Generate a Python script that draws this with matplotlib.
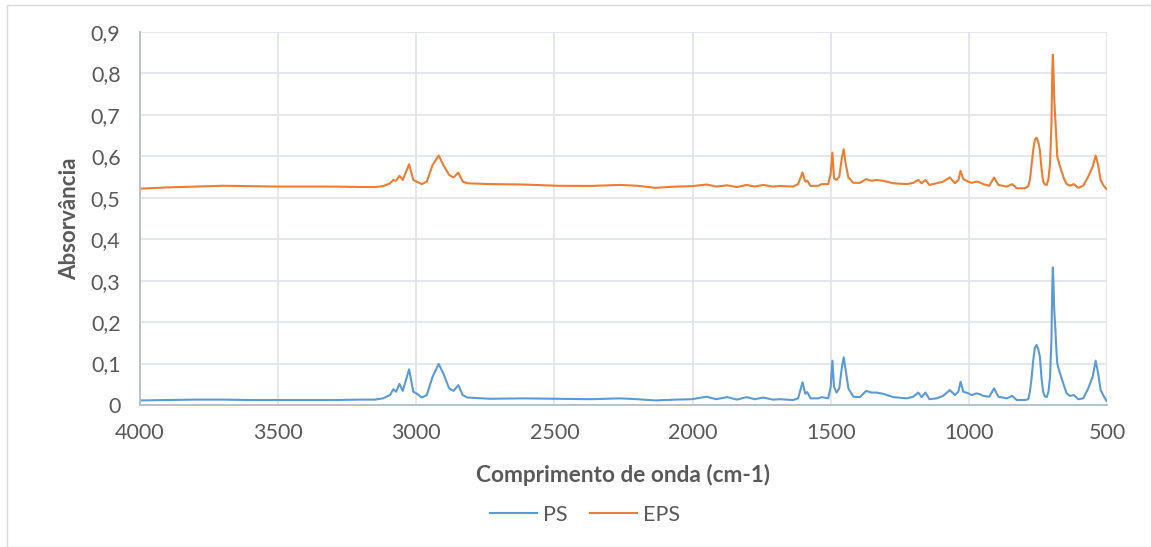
import matplotlib.pyplot as plt
from matplotlib.patches import Rectangle
from matplotlib.ticker import FuncFormatter

# Wavenumber grid (cm-1), high to low
wavenumber = [4000, 3900, 3800, 3700, 3600, 3500, 3400, 3300, 3200, 3150, 3120,
              3095, 3083, 3073, 3061, 3049, 3026, 3011, 2999, 2980, 2962, 2941,
              2919, 2902, 2881, 2865, 2848, 2832, 2815, 2733, 2613, 2492, 2371,
              2262, 2200, 2136, 2060, 2003, 1949, 1915, 1874, 1840, 1804, 1775,
              1744, 1710, 1684, 1636, 1618, 1602, 1592, 1585, 1573, 1545, 1533,
              1509, 1500, 1494, 1488, 1479, 1469, 1460, 1453, 1446, 1436, 1418,
              1394, 1372, 1352, 1334, 1310, 1274, 1225, 1201, 1183, 1171, 1157,
              1143, 1117, 1093, 1069, 1050, 1038, 1030, 1020, 1002, 990, 972,
              960, 948, 926, 909, 893, 863, 843, 827, 797, 785, 779, 773, 767,
              761, 755, 749, 743, 737, 731, 725, 718, 712, 706, 701, 698, 696,
              694, 691, 687, 683, 680, 672, 664, 655, 646, 634, 620, 604, 586,
              568, 552, 541, 532, 523, 514, 502]

ps = [0.011, 0.012, 0.013, 0.013, 0.012, 0.012, 0.012, 0.012, 0.013, 0.013, 0.016,
      0.024, 0.038, 0.032, 0.051, 0.034, 0.086, 0.032, 0.028, 0.018, 0.024, 0.068,
      0.099, 0.076, 0.040, 0.034, 0.048, 0.024, 0.018, 0.015, 0.016, 0.015, 0.014,
      0.016, 0.014, 0.011, 0.013, 0.014, 0.020, 0.014, 0.019, 0.013, 0.019, 0.014,
      0.018, 0.013, 0.014, 0.012, 0.016, 0.055, 0.027, 0.031, 0.016, 0.016, 0.019,
      0.016, 0.044, 0.107, 0.044, 0.030, 0.040, 0.089, 0.115, 0.085, 0.040, 0.020,
      0.019, 0.034, 0.030, 0.030, 0.027, 0.019, 0.016, 0.020, 0.030, 0.019, 0.030,
      0.014, 0.016, 0.022, 0.036, 0.024, 0.032, 0.056, 0.032, 0.028, 0.024, 0.028,
      0.026, 0.022, 0.020, 0.040, 0.020, 0.016, 0.022, 0.012, 0.012, 0.014, 0.032,
      0.065, 0.108, 0.138, 0.145, 0.135, 0.117, 0.065, 0.032, 0.021, 0.019, 0.032,
      0.068, 0.160, 0.290, 0.332, 0.300, 0.230, 0.185, 0.130, 0.100, 0.080, 0.064,
      0.045, 0.028, 0.022, 0.024, 0.014, 0.016, 0.040, 0.068, 0.107, 0.076, 0.036,
      0.024, 0.010]

eps = [0.522, 0.525, 0.527, 0.529, 0.528, 0.527, 0.527, 0.527, 0.526, 0.526, 0.528,
       0.535, 0.543, 0.541, 0.553, 0.543, 0.581, 0.543, 0.539, 0.533, 0.539, 0.579,
       0.602, 0.579, 0.555, 0.549, 0.561, 0.539, 0.535, 0.533, 0.532, 0.529, 0.5285,
       0.531, 0.529, 0.524, 0.527, 0.528, 0.532, 0.527, 0.530, 0.526, 0.531, 0.527,
       0.531, 0.527, 0.5285, 0.527, 0.533, 0.561, 0.539, 0.541, 0.5285, 0.529, 0.533,
       0.533, 0.559, 0.609, 0.547, 0.543, 0.551, 0.595, 0.617, 0.583, 0.549, 0.536,
       0.536, 0.545, 0.541, 0.543, 0.541, 0.535, 0.533, 0.536, 0.543, 0.535, 0.543,
       0.531, 0.535, 0.539, 0.549, 0.535, 0.543, 0.565, 0.545, 0.539, 0.536, 0.539,
       0.537, 0.533, 0.529, 0.549, 0.531, 0.527, 0.533, 0.523, 0.523, 0.528, 0.543,
       0.580, 0.615, 0.640, 0.645, 0.635, 0.615, 0.570, 0.539, 0.532, 0.531, 0.545,
       0.583, 0.680, 0.810, 0.845, 0.810, 0.740, 0.692, 0.640, 0.599, 0.580, 0.563,
       0.545, 0.533, 0.529, 0.533, 0.524, 0.529, 0.551, 0.575, 0.602, 0.579, 0.543,
       0.531, 0.521]

y_ticks = [0, 0.1, 0.2, 0.3, 0.4, 0.5, 0.6, 0.7, 0.8, 0.9]
x_ticks = [4000, 3500, 3000, 2500, 2000, 1500, 1000, 500]

text_color = '#595959'
grid_color = '#dfe3ea'
axis_color = '#b4bccb'
font = 'Lato'

fig = plt.figure(figsize=(11.51, 5.47), dpi=100)
ax = fig.add_axes([140 / 1151, 1 - 405 / 547, 967 / 1151, 373 / 547])

# outer chart-area border like Excel
fig.patches.append(Rectangle((7 / 1151, 0), 1 - 7 / 1151, 1 - 5 / 547, transform=fig.transFigure,
                             fill=False, edgecolor='#d9d9d9', linewidth=1))

ax.plot(wavenumber, ps, color='#5b9bd5', linewidth=1.5, label='PS')
ax.plot(wavenumber, eps, color='#ed7d31', linewidth=1.5, label='EPS')

ax.set_xlim(4000, 500)
ax.set_ylim(0, 0.9)
ax.set_xticks(x_ticks)
ax.set_yticks(y_ticks)
ax.yaxis.set_major_formatter(FuncFormatter(lambda v, p: '0' if v == 0 else f'{v:.1f}'.replace('.', ',')))

ax.grid(True, color=grid_color, linewidth=1.2)
ax.set_axisbelow(True)
for s in ['top', 'right']:
    ax.spines[s].set_visible(False)
for s in ['left', 'bottom']:
    ax.spines[s].set_color(axis_color)
    ax.spines[s].set_linewidth(1.3)

ax.tick_params(length=0, labelsize=15.5, labelcolor=text_color)
ax.tick_params(axis='x', pad=13)
ax.tick_params(axis='y', pad=14)
for lbl in ax.get_xticklabels() + ax.get_yticklabels():
    lbl.set_fontfamily(font)

ax.set_xlabel('Comprimento de onda (cm-1)', fontsize=16.3, fontweight='bold',
              color=text_color, family=font, labelpad=15)
ax.set_ylabel('Absorvância', fontsize=16, fontweight='bold',
              color=text_color, family=font, labelpad=8)

fig.legend(loc='center', bbox_to_anchor=(585 / 1151, 1 - 515 / 547), ncol=2, frameon=False,
           prop={'family': font, 'size': 15.5}, labelcolor=text_color,
           handlelength=2.2, columnspacing=1.0, handletextpad=0.3)

fig.savefig('out.png', dpi=100, facecolor='white')
